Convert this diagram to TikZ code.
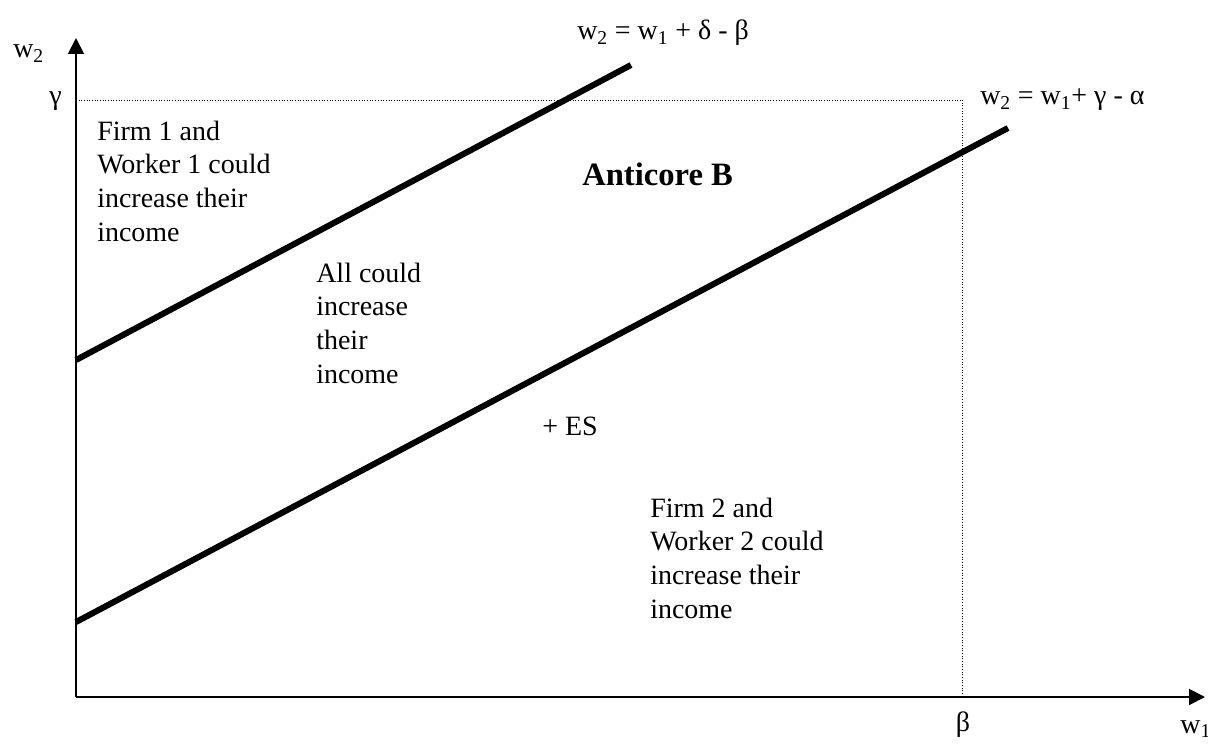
\documentclass[tikz,border=0pt]{standalone}
\usepackage{fontspec}
\setmainfont{Liberation Serif}
\usetikzlibrary{arrows.meta}

\begin{document}
\begin{tikzpicture}[
        axis/.style={line width=1.4pt, -{Triangle[length=0.4cm,width=0.4cm]}},
        bound/.style={line width=0.6pt, dash pattern=on 0.6pt off 1.3pt},
        wage/.style={line width=4.3pt},
        txt/.style={anchor=base west, inner sep=0pt, align=left,
            font=\fontsize{19.9pt}{23.9pt}\selectfont}
    ]
        \useasboundingbox (0, 0) rectangle (30.2, 18.575);

        \coordinate (O) at (1.9, 1.15);
        \coordinate (ytip) at (1.9, 17.625);
        \coordinate (xtip) at (30.125, 1.15);
        \coordinate (g) at (1.9, 16.075);
        \coordinate (gb) at (24.05, 16.075);
        \coordinate (b) at (24.05, 1.15);

        \draw[axis] (O) -- (ytip);
        \draw[axis] (O) -- (xtip);

        \draw[bound] (g) -- (gb);
        \draw[bound] (gb) -- (b);

        \coordinate (a1) at (1.9, 9.575);
        \coordinate (a2) at (15.775, 16.95);
        \coordinate (c1) at (1.9, 3.025);
        \coordinate (c2) at (25.2, 15.375);
        \draw[wage] (a1) -- (a2);
        \draw[wage] (c1) -- (c2);

        \node[txt] (w2) at (0.325, 17.125){w\textsubscript{2}};
        \node[txt] (w1) at (29.5, 0.25){w\textsubscript{1}};
        \node[txt, anchor=base] (gam) at (1.39, 15.95){γ};
        \node[txt, anchor=base] (bet) at (24.075, 0.3){β};

        \node[txt] (eqa) at (14.425, 17.575){w\textsubscript{2} = w\textsubscript{1} + δ - β};
        \node[txt] (eqb) at (24.5, 15.95){w\textsubscript{2} = w\textsubscript{1}+ γ - α};

        % multi-line nodes sit on their last line
        \node[txt] (firma) at (2.425, 12.55){Firm 1 and\\Worker 1 could\\increase their\\income};
        \node[txt] (all) at (7.9, 9.0){All could\\increase\\their\\income};
        \node[txt] (es) at (13.55, 7.7){+ ES};
        \node[txt] (firmb) at (16.25, 3.125){Firm 2 and\\Worker 2 could\\increase their\\income};
        \node[txt, font=\fontsize{23.2pt}{28pt}\selectfont\bfseries] (anti) at (14.55, 13.95){Anticore B};
    \end{tikzpicture}
\end{document}
